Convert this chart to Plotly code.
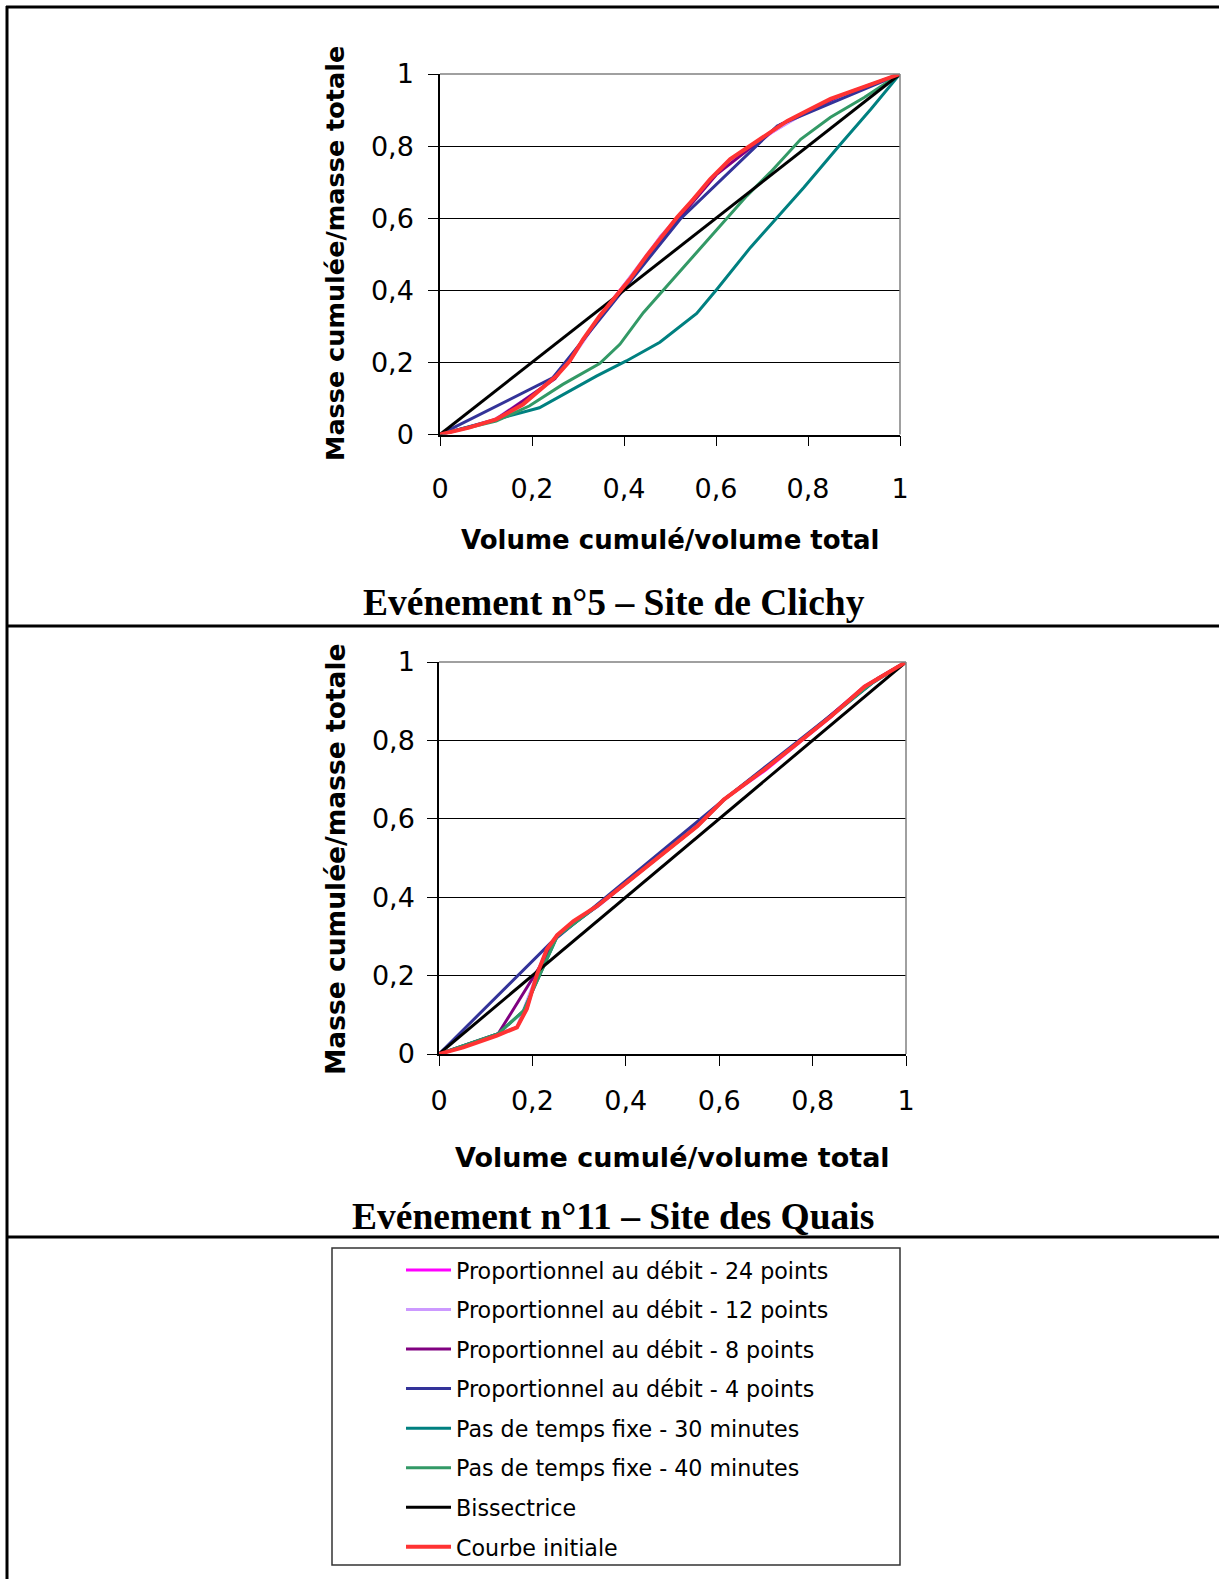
import plotly.graph_objects as go

W, H = 1219, 1579

# ---------------- Data ----------------
series_names = [
    "Proportionnel au débit - 24 points",
    "Proportionnel au débit - 12 points",
    "Proportionnel au débit - 8 points",
    "Proportionnel au débit - 4 points",
    "Pas de temps fixe - 30 minutes",
    "Pas de temps fixe - 40 minutes",
    "Bissectrice",
    "Courbe initiale",
]
series_colors = ["#FF00FF", "#CC99FF", "#800080", "#333399",
                 "#008080", "#339966", "#000000", "#FF3333"]
series_widths = [3, 3, 3, 3, 3, 3, 3, 4]

# Event 5 - Clichy
c_p24_x = [0, 0.06, 0.12, 0.18, 0.22, 0.25, 0.28, 0.31, 0.35, 0.38, 0.41, 0.45, 0.48, 0.52, 0.55, 0.59, 0.63, 0.68, 0.72, 0.76, 0.80, 0.85, 0.91, 0.96, 1]
c_p24_y = [0, 0.019, 0.042, 0.083, 0.128, 0.16, 0.2, 0.262, 0.33, 0.382, 0.43, 0.495, 0.55, 0.603, 0.652, 0.707, 0.762, 0.8, 0.837, 0.869, 0.897, 0.93, 0.957, 0.98, 1]
c_p12_x = [0, 0.12, 0.22, 0.28, 0.35, 0.41, 0.48, 0.55, 0.63, 0.72, 0.80, 0.91, 1]
c_p12_y = [0, 0.042, 0.128, 0.2, 0.33, 0.43, 0.55, 0.652, 0.762, 0.837, 0.897, 0.957, 1]
c_p8_x = [0, 0.12, 0.25, 0.35, 0.42, 0.52, 0.60, 0.74, 0.87, 1]
c_p8_y = [0, 0.04, 0.155, 0.33, 0.44, 0.60, 0.72, 0.86, 0.94, 1]
c_p4_x = [0, 0.245, 0.522, 0.733, 1]
c_p4_y = [0, 0.157, 0.597, 0.856, 1]
c_t30_x = [0, 0.216, 0.340, 0.405, 0.478, 0.558, 0.602, 0.675, 0.733, 0.791, 0.871, 0.937, 1]
c_t30_y = [0, 0.074, 0.162, 0.204, 0.256, 0.336, 0.403, 0.519, 0.602, 0.685, 0.806, 0.903, 1]
c_t40_x = [0, 0.122, 0.194, 0.267, 0.347, 0.391, 0.442, 0.493, 0.551, 0.609, 0.667, 0.718, 0.784, 0.849, 0.922, 1]
c_t40_y = [0, 0.037, 0.079, 0.139, 0.197, 0.25, 0.338, 0.412, 0.495, 0.579, 0.662, 0.727, 0.819, 0.880, 0.935, 1]
c_bis_x = [0, 1]
c_bis_y = [0, 1]
c_ini_x = [0, 0.063, 0.122, 0.180, 0.223, 0.253, 0.282, 0.311, 0.347, 0.384, 0.413, 0.449, 0.485, 0.515, 0.551, 0.587, 0.631, 0.675, 0.718, 0.755, 0.798, 0.849, 0.908, 0.958, 1]
c_ini_y = [0, 0.019, 0.042, 0.083, 0.130, 0.162, 0.204, 0.264, 0.329, 0.384, 0.431, 0.495, 0.551, 0.602, 0.653, 0.708, 0.764, 0.801, 0.838, 0.870, 0.898, 0.931, 0.958, 0.981, 1]

# Event 11 - Quais
q_p24_x = [0, 0.05, 0.12, 0.167, 0.188, 0.21, 0.231, 0.253, 0.29, 0.34, 0.41, 0.48, 0.55, 0.61, 0.70, 0.77, 0.84, 0.91, 1]
q_p24_y = [0, 0.017, 0.047, 0.068, 0.115, 0.204, 0.267, 0.303, 0.339, 0.377, 0.445, 0.513, 0.581, 0.649, 0.725, 0.793, 0.861, 0.937, 1]
q_p12_x = [0, 0.12, 0.167, 0.21, 0.253, 0.34, 0.48, 0.61, 0.77, 0.91, 1]
q_p12_y = [0, 0.047, 0.068, 0.204, 0.303, 0.377, 0.513, 0.649, 0.793, 0.937, 1]
q_p8_x = [0, 0.127, 0.217, 0.253, 0.338, 0.41, 0.553, 0.61, 0.768, 0.911, 1]
q_p8_y = [0, 0.052, 0.225, 0.303, 0.377, 0.445, 0.581, 0.649, 0.793, 0.937, 1]
q_p4_x = [0, 0.238, 0.61, 0.939, 1]
q_p4_y = [0, 0.282, 0.649, 0.958, 1]
q_t30_x = [0, 0.127, 0.181, 0.253, 0.338, 0.41, 0.481, 0.553, 0.61, 0.696, 0.768, 0.839, 0.93, 1]
q_t30_y = [0, 0.052, 0.11, 0.300, 0.377, 0.445, 0.513, 0.581, 0.649, 0.725, 0.793, 0.861, 0.948, 1]
q_t40_x = [0, 0.127, 0.181, 0.253, 0.338, 0.41, 0.481, 0.553, 0.61, 0.696, 0.768, 0.839, 0.93, 1]
q_t40_y = [0, 0.052, 0.11, 0.300, 0.377, 0.445, 0.513, 0.581, 0.649, 0.725, 0.793, 0.861, 0.950, 1]
q_bis_x = [0, 1]
q_bis_y = [0, 1]
q_ini_x = [0, 0.052, 0.124, 0.167, 0.188, 0.210, 0.231, 0.253, 0.288, 0.338, 0.410, 0.481, 0.553, 0.610, 0.696, 0.768, 0.839, 0.911, 1]
q_ini_y = [0, 0.017, 0.047, 0.068, 0.115, 0.204, 0.267, 0.303, 0.339, 0.377, 0.445, 0.513, 0.581, 0.649, 0.725, 0.793, 0.861, 0.937, 1]

clichy = [(c_p24_x, c_p24_y), (c_p12_x, c_p12_y), (c_p8_x, c_p8_y), (c_p4_x, c_p4_y),
          (c_t30_x, c_t30_y), (c_t40_x, c_t40_y), (c_bis_x, c_bis_y), (c_ini_x, c_ini_y)]
quais = [(q_p24_x, q_p24_y), (q_p12_x, q_p12_y), (q_p8_x, q_p8_y), (q_p4_x, q_p4_y),
         (q_t30_x, q_t30_y), (q_t40_x, q_t40_y), (q_bis_x, q_bis_y), (q_ini_x, q_ini_y)]

x_title = "Volume cumulé/volume total"
y_title = "Masse cumulée/masse totale"
title1 = "Evénement n°5 – Site de Clichy"
title2 = "Evénement n°11 – Site des Quais"

# ---------------- Figure ----------------
fig = go.Figure()

for i, name in enumerate(series_names):
    x, y = clichy[i]
    fig.add_trace(go.Scatter(x=x, y=y, mode="lines", name=name, legendgroup=name,
                             line=dict(color=series_colors[i], width=series_widths[i]),
                             xaxis="x", yaxis="y", showlegend=True))
for i, name in enumerate(series_names):
    x, y = quais[i]
    fig.add_trace(go.Scatter(x=x, y=y, mode="lines", name=name, legendgroup=name,
                             line=dict(color=series_colors[i], width=series_widths[i]),
                             xaxis="x2", yaxis="y2", showlegend=False))

def px(v):
    return v / W

def py(v):
    return 1 - v / H

SANS = "DejaVu Sans, Liberation Sans, Arial, sans-serif"
SERIF = "Liberation Serif, Times New Roman, serif"

def xax(domain, anchor, standoff):
    return dict(domain=domain, anchor=anchor, range=[0, 1], tick0=0, dtick=0.2,
                showgrid=False, zeroline=False, showline=True, linecolor="black",
                linewidth=1.5, ticks="outside", ticklen=10, tickwidth=1.2,
                tickcolor="black", tickfont=dict(family=SANS, size=27, color="black"),
                ticklabelstandoff=standoff, automargin=False, fixedrange=True)

def yax(domain, anchor, standoff):
    return dict(domain=domain, anchor=anchor, range=[0, 1], tick0=0, dtick=0.2,
                showgrid=True, gridcolor="black", gridwidth=1, zeroline=False,
                showline=True, linecolor="black", linewidth=1.5, ticks="outside",
                ticklen=10, tickwidth=1.2, tickcolor="black",
                tickfont=dict(family=SANS, size=27, color="black"),
                ticklabelstandoff=standoff, automargin=False, fixedrange=True)

fig.update_layout(
    width=W, height=H,
    margin=dict(l=0, r=0, t=0, b=0, pad=0, autoexpand=False),
    paper_bgcolor="white", plot_bgcolor="white",
    separators=", ",
    xaxis=xax([px(440), px(900)], "y", 19),
    yaxis=yax([py(434.5), py(74)], "x", 9),
    xaxis2=xax([px(439), px(906)], "y2", 12),
    yaxis2=yax([py(1054), py(662)], "x2", 7),
    legend=dict(x=px(401), y=py(1249), xanchor="left", yanchor="top",
                bgcolor="rgba(0,0,0,0)", borderwidth=0,
                font=dict(family=SANS, size=22.2, color="black"),
                tracegroupgap=7.7, traceorder="grouped", itemwidth=45),
    showlegend=True,
)

shapes = []
# table lines
for yy in [7, 626, 1237]:
    shapes.append(dict(type="line", xref="paper", yref="paper", x0=px(6), x1=1.0,
                       y0=py(yy), y1=py(yy), line=dict(color="black", width=3)))
shapes.append(dict(type="line", xref="paper", yref="paper", x0=px(7), x1=px(7),
                   y0=py(6), y1=0.0, line=dict(color="black", width=3)))
# legend box
shapes.append(dict(type="rect", xref="paper", yref="paper", x0=px(332), x1=px(900),
                   y0=py(1565), y1=py(1248), line=dict(color="#333333", width=1.5)))
# gray top/right plot borders
for xa, ya in [("x", "y"), ("x2", "y2")]:
    shapes.append(dict(type="line", xref=f"{xa} domain", yref=f"{ya} domain",
                       x0=0, x1=1, y0=1, y1=1, line=dict(color="#808080", width=1.5)))
    shapes.append(dict(type="line", xref=f"{xa} domain", yref=f"{ya} domain",
                       x0=1, x1=1, y0=0, y1=1, line=dict(color="#808080", width=1.5)))
fig.update_layout(shapes=shapes)

ann = []
def a(text, x, y, size, family, angle=0):
    ann.append(dict(text=text, x=px(x), y=py(y), xref="paper", yref="paper",
                    xanchor="center", yanchor="middle", showarrow=False,
                    textangle=angle, font=dict(family=family, size=size, color="black")))

a(f"<b>{y_title}</b>", 335, 254, 25.5, SANS, -90)
a(f"<b>{x_title}</b>", 670, 540, 26, SANS)
a(f"<b>{title1}</b>", 614, 602, 37.5, SERIF)
a(f"<b>{y_title}</b>", 335, 860, 26.5, SANS, -90)
a(f"<b>{x_title}</b>", 672, 1157, 27, SANS)
a(f"<b>{title2}</b>", 613, 1216, 37.5, SERIF)
fig.update_layout(annotations=ann)

fig.write_html("out.html", config={"displayModeBar": False},
               post_script="document.body.style.margin='0';document.body.style.overflow='hidden';")
